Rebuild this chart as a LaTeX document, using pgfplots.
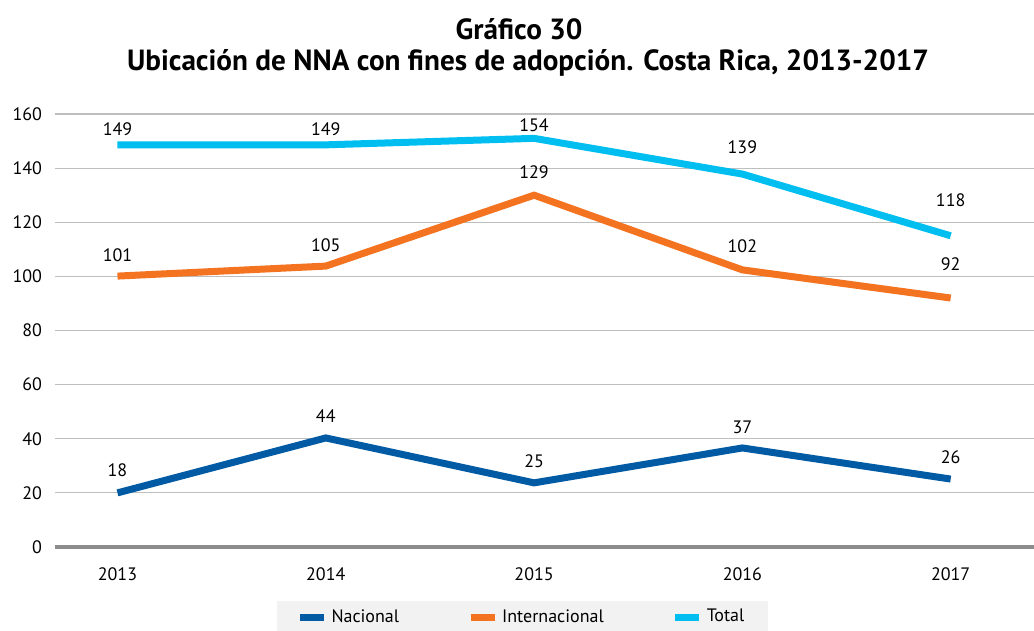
\documentclass[border=0pt]{standalone}
\usepackage{fontspec}
\setmainfont{PT Sans}
\usepackage{pgfplots}
\usepackage{pgfplotstable}
\pgfplotsset{compat=1.18}

\definecolor{nac}{RGB}{0,91,164}
\definecolor{intl}{RGB}{243,115,33}
\definecolor{tot}{RGB}{0,191,240}
\definecolor{legbg}{RGB}{242,242,242}
\definecolor{gridc}{RGB}{190,190,190}
\definecolor{basec}{RGB}{140,140,140}

% line positions as drawn
\pgfplotstableread{
year nac intl tot
2013 20.0 100.1 148.6
2014 40.3 103.8 148.6
2015 23.7 130.0 151.0
2016 36.6 102.4 137.8
2017 25.1 92.0 115.0
}\datos

% data labels: where they stand and what they say
\pgfplotstableread{
year ly lab
2013 28.4 18
2014 48.4 44
2015 31.8 25
2016 44.3 37
2017 33.3 26
2013 107.9 101
2014 111.6 105
2015 138.6 129
2016 111.2 102
2017 104.6 92
2013 154.5 149
2014 154.5 149
2015 155.9 154
2016 147.8 139
2017 128.2 118
}\etiquetas

\begin{document}
\begin{tikzpicture}
\useasboundingbox (-27.5pt,-42pt) rectangle (489.5pt,273.5pt);

\node[font=\bfseries\fontsize{14.6}{16}\selectfont] at (232pt,259pt) {Gráfico 30};
\node[font=\bfseries\fontsize{14.6}{16}\selectfont] at (236.5pt,242pt) {Ubicación de NNA con fines de adopción. Costa Rica, 2013-2017};

\begin{axis}[
    at={(0pt,0pt)}, anchor=south west,
    scale only axis,
    width=489.5pt, height=216.5pt,
    xmin=2012.7, xmax=2017.4,
    ymin=0, ymax=160,
    xtick={2013,2014,2015,2016,2017},
    ytick={20,40,...,160},
    extra y ticks={0},
    extra y tick style={ymajorgrids=false},
    axis line style={draw=none},
    major tick length=0pt,
    ymajorgrids,
    major grid style={gridc, line width=0.6pt},
    ticklabel style={font=\fontsize{9}{11}\selectfont},
    /pgf/number format/assume math mode=true,
    /pgf/number format/set thousands separator={},
    xticklabel style={yshift=-7pt},
    yticklabel style={xshift=-3pt},
    clip=false,
    legend columns=3,
    legend style={
        at={(0.4775,-0.162)}, anchor=center,
        fill=legbg, draw=none,
        font=\fontsize{9}{11}\selectfont,
        inner xsep=10pt, inner ysep=2pt,
        /tikz/every even column/.append style={column sep=32pt},
    },
    legend image code/.code={\draw[#1, line width=3.5pt] (0pt,0pt) -- (12pt,0pt);},
]
\draw[basec, line width=2pt] (rel axis cs:0,0) -- (rel axis cs:1,0);

\addplot[nac, line width=3.5pt] table[x=year, y=nac] {\datos};
\addlegendentry{Nacional}
\addplot[intl, line width=3.5pt] table[x=year, y=intl] {\datos};
\addlegendentry{Internacional}
\addplot[tot, line width=3.5pt] table[x=year, y=tot] {\datos};
\addlegendentry{Total}

\addplot[draw=none, forget plot, nodes near coords, point meta=explicit symbolic,
    every node near coord/.append style={anchor=center, font=\fontsize{9}{11}\selectfont, text=black}]
    table[x=year, y=ly, meta=lab] {\etiquetas};
\end{axis}
\end{tikzpicture}
\end{document}
